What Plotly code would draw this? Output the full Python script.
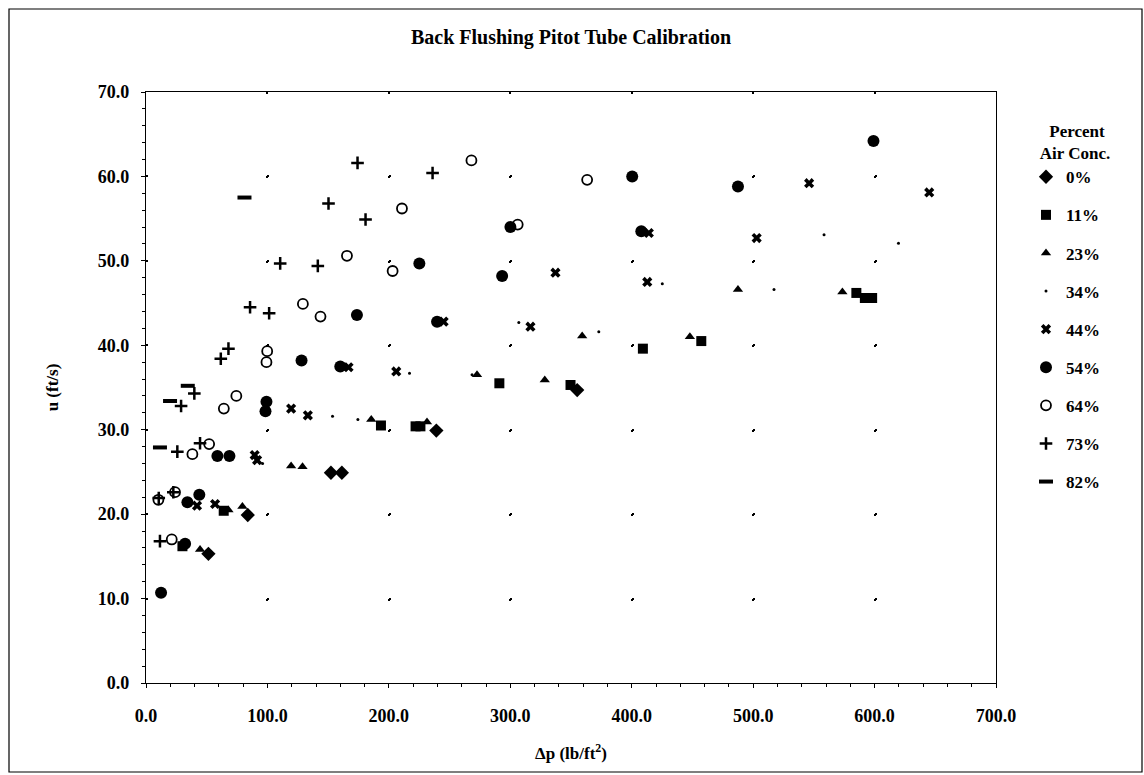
import plotly.graph_objects as go

# ---- data (Δp in lb/ft², u in ft/s) ----
series_names = ["0%", "11%", "23%", "34%", "44%", "54%", "64%", "73%", "82%"]

dp_0 = [51.4, 83.8, 152.3, 161.3, 239.1, 355.1]
u_0 = [15.3, 19.9, 24.9, 24.9, 29.9, 34.7]

dp_11 = [30.0, 64.0, 193.5, 222.0, 226.0, 291.0, 349.6, 409.2, 457.3, 585.0, 592.0, 598.0]
u_11 = [16.2, 20.4, 30.5, 30.4, 30.4, 35.5, 35.3, 39.6, 40.5, 46.2, 45.6, 45.6]

dp_23 = [44.5, 67.9, 79.4, 119.5, 128.9, 185.5, 231.4, 272.6, 328.4, 359.2, 447.9, 487.5, 573.5]
u_23 = [15.8, 20.5, 20.9, 25.7, 25.6, 31.2, 30.9, 36.5, 35.9, 41.1, 41.0, 46.6, 46.3]

dp_34 = [96.0, 153.6, 174.5, 217.0, 268.5, 307.0, 372.9, 425.2, 517.2, 558.4, 619.7]
u_34 = [26.0, 31.6, 31.2, 36.7, 36.5, 42.7, 41.6, 47.3, 46.6, 53.1, 52.1]

dp_44 = [42.0, 56.9, 89.5, 91.5, 119.5, 133.3, 166.8, 206.1, 245.1, 316.6, 337.2, 412.8, 414.1, 502.9, 546.1, 645.0]
u_44 = [21.0, 21.2, 27.0, 26.4, 32.5, 31.7, 37.4, 36.9, 42.8, 42.2, 48.6, 47.5, 53.3, 52.7, 59.2, 58.1]

dp_54 = [12.4, 32.2, 34.1, 43.9, 58.8, 68.7, 98.4, 99.2, 128.1, 160.0, 173.7, 225.1, 239.7, 293.3, 300.1, 400.4, 407.9, 487.5, 599.1]
u_54 = [10.7, 16.5, 21.4, 22.3, 26.9, 26.9, 32.2, 33.3, 38.2, 37.5, 43.6, 49.7, 42.8, 48.2, 54.0, 60.0, 53.5, 58.8, 64.2]

dp_64 = [10.2, 21.2, 23.9, 38.2, 52.0, 64.1, 74.4, 99.2, 99.8, 129.2, 143.7, 165.5, 203.1, 210.8, 268.0, 306.1, 363.3]
u_64 = [21.7, 17.0, 22.6, 27.1, 28.3, 32.5, 34.0, 38.0, 39.3, 44.9, 43.4, 50.6, 48.8, 56.2, 61.9, 54.3, 59.6]

dp_73 = [11.5, 10.5, 22.5, 25.8, 44.5, 28.9, 39.8, 61.6, 67.9, 85.7, 101.4, 110.5, 141.5, 150.3, 174.2, 180.8, 236.0]
u_73 = [16.8, 21.9, 22.6, 27.4, 28.4, 32.8, 34.3, 38.4, 39.6, 44.5, 43.8, 49.7, 49.4, 56.8, 61.6, 54.9, 60.4]

dp_82 = [11.5, 19.8, 34.4, 81.1]
u_82 = [27.9, 33.4, 35.2, 57.5]

x_ticks = [0, 100, 200, 300, 400, 500, 600, 700]
y_ticks = [0, 10, 20, 30, 40, 50, 60, 70]

# ---- styling ----
FONT = "Liberation Serif"
W, H = 1144, 775
ML, MR, MT, MB = 146, 148, 92, 92
PW, PH = W - ML - MR, H - MT - MB

styles = [
    dict(symbol="diamond", size=11),
    dict(symbol="square", size=10),
    dict(symbol="triangle-up", size=9),
    dict(symbol="circle", size=3),
    dict(symbol="x", size=9),
    dict(symbol="circle", size=12),
    dict(symbol="circle-open", size=10, line=dict(width=1.8, color="black")),
    dict(symbol="cross-thin-open", size=9, line=dict(width=2.5, color="black")),
    dict(symbol="line-ew-open", size=10, line=dict(width=4, color="black")),
]
xs = [dp_0, dp_11, dp_23, dp_34, dp_44, dp_54, dp_64, dp_73, dp_82]
ys = [u_0, u_11, u_23, u_34, u_44, u_54, u_64, u_73, u_82]

fig = go.Figure()
for name, x, y, st in zip(series_names, xs, ys, styles):
    m = dict(color="black")
    m.update(st)
    fig.add_trace(go.Scatter(x=x, y=y, mode="markers", name=name, marker=m,
                             legendgroup=name))

gx = PH / 7.0
gy = PW / 7.0
tickfont = dict(family=FONT, size=18, color="black", weight="bold")
titlefont = dict(family=FONT, size=17, color="black", weight="bold")
axis_common = dict(
    showline=True, linecolor="black", linewidth=1.2, mirror=True,
    ticks="outside", ticklen=4, tickcolor="black", tickwidth=1,
    tickfont=tickfont, zeroline=False, tickformat=".1f",
    showgrid=True, gridcolor="black", gridwidth=2,
)
fig.update_xaxes(range=[0, 700], tickvals=x_ticks, **axis_common,
                 griddash=f"2px,{gx - 2:.2f}px", ticklabelstandoff=12,
                 minor=dict(dtick=20, ticks="outside", ticklen=3, tickcolor="black", showgrid=False),
                 title=dict(text="Δp (lb/ft<sup>2</sup>)", standoff=22, font=titlefont))
fig.update_yaxes(range=[0, 70], tickvals=y_ticks, **axis_common,
                 griddash=f"2px,{gy - 2:.2f}px", ticklabelstandoff=8,
                 minor=dict(dtick=2, ticks="outside", ticklen=3, tickcolor="black", showgrid=False),
                 title=dict(text="u (ft/s)", standoff=34, font=titlefont))

fig.update_layout(
    width=W, height=H,
    margin=dict(l=ML, r=MR, t=MT, b=MB, autoexpand=False),
    paper_bgcolor="white", plot_bgcolor="white",
    title=dict(text="Back Flushing Pitot Tube Calibration", x=(ML + PW / 2) / W, xanchor="center",
               y=1 - 37 / H, yanchor="middle",
               font=dict(family=FONT, size=20, color="black", weight="bold")),
    legend=dict(x=1 + 30 / PW, y=1 - 23 / PH, xanchor="left", yanchor="top",
                title=dict(text="     Percent<br>   Air Conc.", side="top",
                           font=dict(family=FONT, size=17, color="black", weight="bold")),
                font=dict(family=FONT, size=17, color="black", weight="bold"),
                traceorder="grouped", tracegroupgap=13, itemwidth=30,
                bgcolor="rgba(0,0,0,0)"),
    showlegend=True,
)

# outer chart border
fig.add_shape(type="rect", xref="paper", yref="paper",
              x0=(9 - ML) / PW, x1=(W - 2 - ML) / PW,
              y0=-(H - 3 - MT - PH) / PH, y1=1 + (MT - 9) / PH,
              line=dict(color="black", width=1.2), layer="below")

fig.write_html("out.html")
